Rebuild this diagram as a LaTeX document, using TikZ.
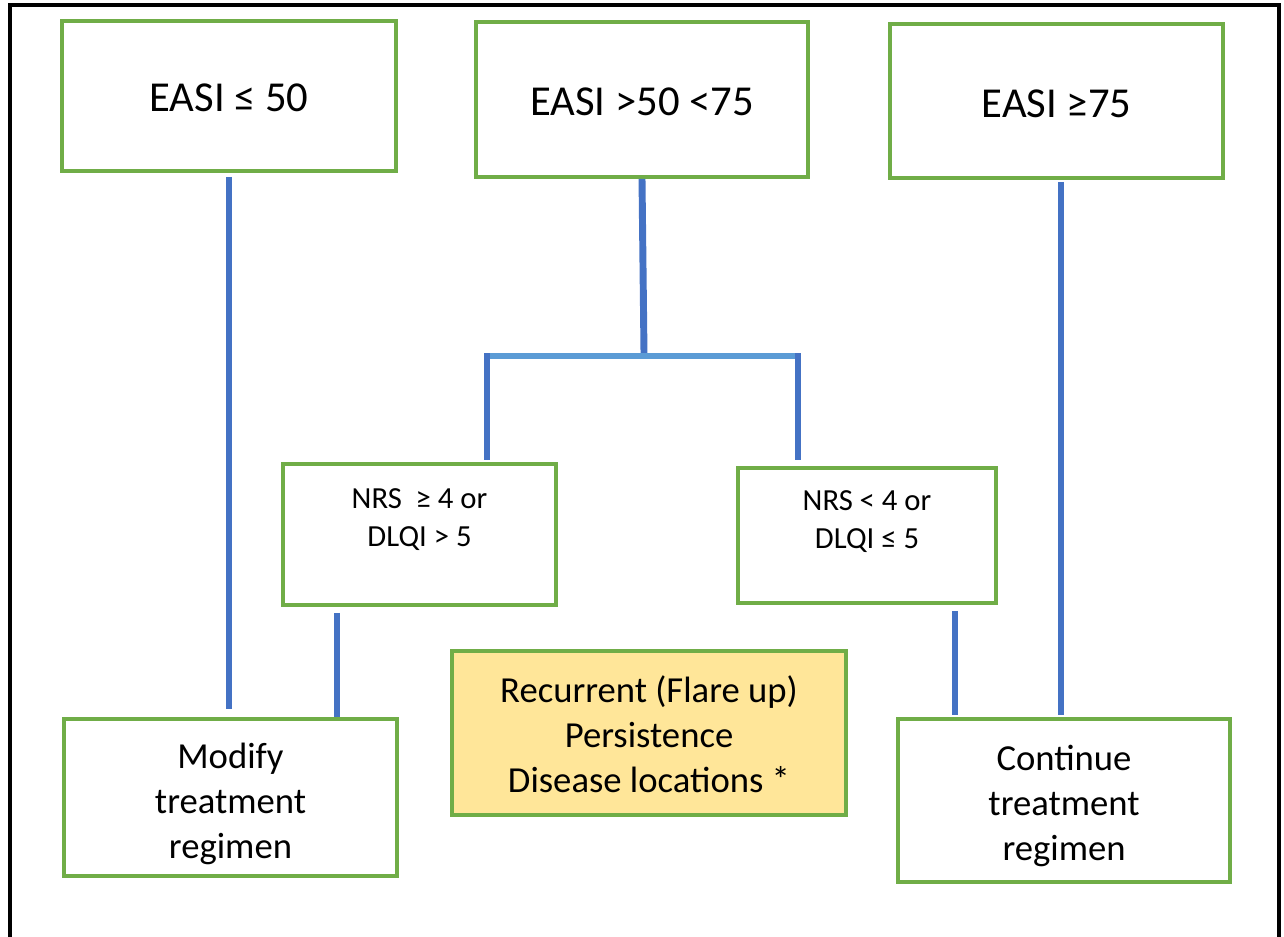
\documentclass[tikz,border=0pt]{standalone}
\usepackage{fontspec}
\setmainfont{Carlito}
\usetikzlibrary{fit}
\definecolor{boxgreen}{HTML}{70AD47}
\definecolor{linkblue}{HTML}{4472C4}
\definecolor{barblue}{HTML}{5B9BD5}
\definecolor{noteyellow}{HTML}{FFE699}
\begin{document}
\begin{tikzpicture}[x=0.75pt,y=-0.75pt,
  gbox/.style={draw=boxgreen,line width=2.7pt,inner sep=0pt},
  link/.style={draw=linkblue,line width=5.2pt},
  bar/.style={draw=barblue,line width=5pt},
  bigtxt/.style={inner sep=0pt,align=center,font=\fontsize{32}{39}\selectfont},
  midtxt/.style={inner sep=0pt,align=center,font=\fontsize{27.5}{33.75}\selectfont},
  smalltxt/.style={inner sep=0pt,align=center,font=\fontsize{23}{28.5}\selectfont},
]
\useasboundingbox (0,0) rectangle (1284,937);
\draw[line width=2.4pt] (10,937) -- (10,5) -- (1279,5) -- (1279,937);

% boxes
\node[gbox, fit={(62,21) (396,171)}] (e1) {};
\node[gbox, fit={(476,22) (808,177)}] (e2) {};
\node[gbox, fit={(890,24) (1223,178)}] (e3) {};
\node[gbox, fit={(283,464) (556,605)}] (n1) {};
\node[gbox, fit={(738,468) (996,603)}] (n2) {};
\node[gbox, fill=noteyellow, fit={(452,651) (846,815)}] (y1) {};
\node[gbox, fit={(64,719) (397,876)}] (m1) {};
\node[gbox, fit={(898,719) (1230,882)}] (c1) {};

% texts
\node[bigtxt] (e1t) at ([yshift=-1.5pt]e1.center) {EASI ≤ 50};
\node[bigtxt] (e2t) at ([yshift=-2pt]e2.center) {EASI >50 <75};
\node[bigtxt] (e3t) at ([yshift=-2pt]e3.center) {EASI ≥75};
\node[smalltxt] (n1t) at ([yshift=-43pt]n1.north) {NRS~ ≥ 4 or\\DLQI > 5};
\node[smalltxt] (n2t) at ([yshift=-41.5pt]n2.north) {NRS < 4 or\\DLQI ≤ 5};
\node[midtxt] (y1t) at ([yshift=-1pt]y1.center) {Recurrent (Flare up)\\Persistence\\Disease locations *};
\node[midtxt] (m1t) at ([yshift=-4.5pt]m1.center) {Modify\\treatment\\regimen};
\node[midtxt] (c1t) at ([yshift=-4pt]c1.center) {Continue\\treatment\\regimen};

% junction coordinates
\coordinate (jm) at (644,356);
\coordinate (jl) at (487,356);
\coordinate (jr) at (798,356);
\coordinate (xa) at (337,0);
\coordinate (xb) at (955,0);
\coordinate (xc) at (1061,0);

% connectors
\draw[link, shorten <=3pt, shorten >=6pt] (e1.south) -- (e1.south |- m1.north);
\draw[link] (e2.south) -- ([yshift=2pt]jm);
\draw[bar] (jl) -- (jr);
\draw[link, shorten >=1.5pt] ([yshift=2.2pt]jl) -- (jl |- n1.north);
\draw[link, shorten >=5pt] ([yshift=2.2pt]jr) -- (jr |- n2.north);
\draw[link, shorten <=4.5pt] (n1.south -| xa) -- (m1.north -| xa);
\draw[link, shorten <=4.5pt, shorten >=1.5pt] (n2.south -| xb) -- (c1.north -| xb);
\draw[link, shorten <=1.5pt, shorten >=1.5pt] (e3.south -| xc) -- (c1.north -| xc);
\end{tikzpicture}
\end{document}
